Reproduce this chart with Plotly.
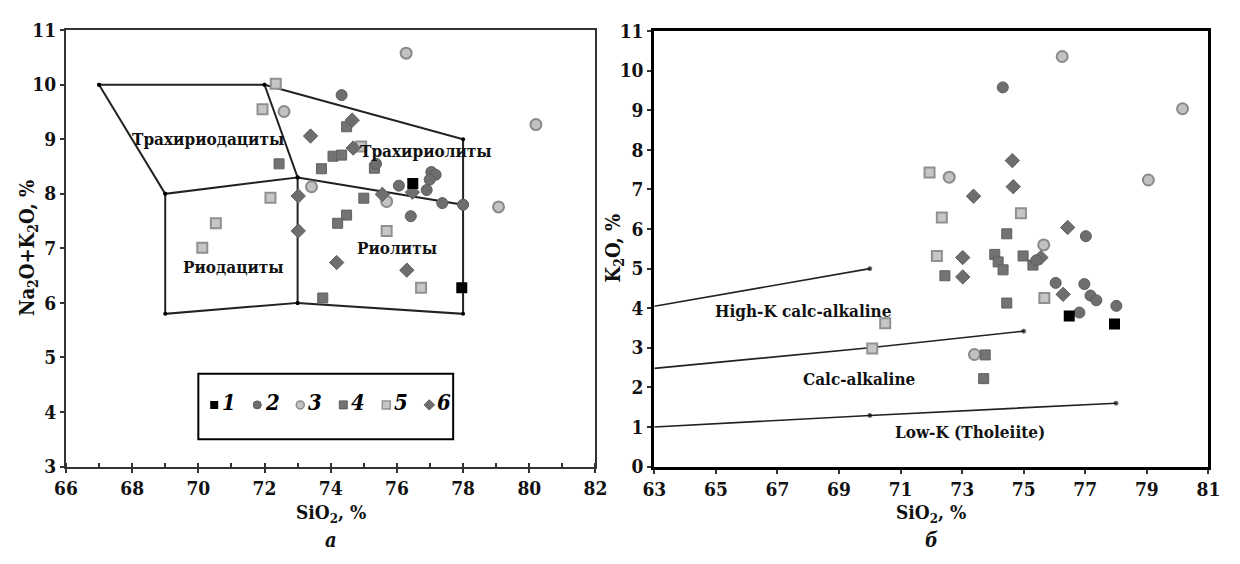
import plotly.graph_objects as go

# ---------------- DATA ----------------
group_names = ["1", "2", "3", "4", "5", "6"]

# Panel а: SiO2 vs Na2O+K2O
a_si_1 = [76.48, 77.96]
a_alk_1 = [8.19, 6.28]
a_si_2 = [74.33, 75.37, 76.06, 77.04, 77.17, 76.99, 76.90, 77.37, 78.00, 76.42]
a_alk_2 = [9.81, 8.55, 8.15, 8.40, 8.35, 8.26, 8.07, 7.83, 7.80, 7.59]
a_si_3 = [76.28, 72.59, 80.20, 79.07, 73.42, 75.69]
a_alk_3 = [10.58, 9.51, 9.27, 7.76, 8.13, 7.86]
a_si_4 = [74.48, 74.07, 74.33, 72.44, 73.72, 75.32, 75.00, 74.48, 74.21, 73.76]
a_alk_4 = [9.23, 8.69, 8.71, 8.55, 8.46, 8.47, 7.92, 7.61, 7.46, 6.09]
a_si_5 = [72.34, 71.94, 74.92, 72.18, 75.69, 70.53, 70.12, 76.73]
a_alk_5 = [10.02, 9.55, 8.87, 7.93, 7.32, 7.46, 7.01, 6.28]
a_si_6 = [74.65, 73.39, 74.68, 73.02, 75.56, 73.02, 74.18, 76.30, 76.47]
a_alk_6 = [9.35, 9.06, 8.84, 7.96, 7.99, 7.32, 6.74, 6.60, 8.03]

# Panel б: SiO2 vs K2O
b_si_1 = [76.48, 77.95]
b_k_1 = [3.80, 3.60]
b_si_2 = [74.32, 77.02, 75.41, 76.04, 76.97, 77.17, 77.36, 78.01, 76.81]
b_k_2 = [9.58, 5.82, 5.21, 4.64, 4.61, 4.32, 4.20, 4.06, 3.89]
b_si_3 = [76.25, 80.16, 79.05, 72.58, 75.65, 73.40]
b_k_3 = [10.36, 9.04, 7.24, 7.31, 5.60, 2.83]
b_si_4 = [74.45, 72.44, 74.06, 74.17, 74.33, 74.98, 75.30, 74.45, 73.75, 73.70]
b_k_4 = [5.88, 4.82, 5.36, 5.17, 4.97, 5.32, 5.09, 4.13, 2.82, 2.22]
b_si_5 = [71.94, 72.34, 74.91, 72.18, 75.67, 70.50, 70.08]
b_k_5 = [7.43, 6.29, 6.40, 5.32, 4.26, 3.62, 2.98]
b_si_6 = [74.63, 74.66, 73.37, 76.43, 73.02, 73.02, 75.56, 76.28]
b_k_6 = [7.73, 7.07, 6.83, 6.04, 5.28, 4.79, 5.28, 4.35]

# Classification fields (panel а)
trd_si = [67, 72, 73, 69, 67]
trd_alk = [10, 10, 8.3, 8, 10]
trr_si = [72, 78, 78, 73]
trr_alk = [10, 9, 7.8, 8.3]
rd_si = [69, 69, 73, 73]
rd_alk = [8, 5.8, 6, 8.3]
r_si = [73, 78, 78]
r_alk = [6, 5.8, 7.8]

# Series boundaries (panel б)
hk_si = [63, 70]
hk_k = [4.05, 5.0]
ca_si = [63, 70, 75]
ca_k = [2.48, 3.0, 3.42]
lk_si = [63, 70, 78]
lk_k = [1.0, 1.29, 1.6]

# ---------------- STYLES ----------------
styles = {
    "1": dict(symbol="square", color="#000000", line=dict(color="#000000", width=0), size=11),
    "2": dict(symbol="circle", color="#6e6e6e", line=dict(color="#5c5c5c", width=1), size=11),
    "3": dict(symbol="circle", color="#c2c2c2", line=dict(color="#8a8a8a", width=2), size=11),
    "4": dict(symbol="square", color="#737373", line=dict(color="#606060", width=1), size=10),
    "5": dict(symbol="square", color="#c6c6c6", line=dict(color="#909090", width=2), size=10),
    "6": dict(symbol="diamond", color="#6e6e6e", line=dict(color="#5c5c5c", width=1), size=11),
}

FONT = "DejaVu Serif Condensed, DejaVu Serif, serif"

fig = go.Figure()

# field lines
for xs, ys in [(trd_si, trd_alk), (trr_si, trr_alk), (rd_si, rd_alk), (r_si, r_alk)]:
    fig.add_trace(go.Scatter(x=xs, y=ys, mode="lines+markers", xaxis="x", yaxis="y",
                             line=dict(color="#222222", width=2),
                             marker=dict(size=4, color="#000000"),
                             showlegend=False, hoverinfo="skip"))

for xs, ys in [(hk_si, hk_k), (ca_si, ca_k), (lk_si, lk_k)]:
    fig.add_trace(go.Scatter(x=xs, y=ys, mode="lines+markers", xaxis="x2", yaxis="y2",
                             line=dict(color="#222222", width=1.6),
                             marker=dict(size=[0] + [4] * (len(xs) - 1), color="#000000"),
                             showlegend=False, hoverinfo="skip"))

a_data = {"1": (a_si_1, a_alk_1), "2": (a_si_2, a_alk_2), "3": (a_si_3, a_alk_3),
          "4": (a_si_4, a_alk_4), "5": (a_si_5, a_alk_5), "6": (a_si_6, a_alk_6)}
b_data = {"1": (b_si_1, b_k_1), "2": (b_si_2, b_k_2), "3": (b_si_3, b_k_3),
          "4": (b_si_4, b_k_4), "5": (b_si_5, b_k_5), "6": (b_si_6, b_k_6)}

draw_order = ["5", "3", "4", "6", "2", "1"]
for g in draw_order:
    st = styles[g]
    xs, ys = a_data[g]
    fig.add_trace(go.Scatter(x=xs, y=ys, mode="markers", xaxis="x", yaxis="y", name=g,
                             marker=dict(symbol=st["symbol"], color=st["color"], size=st["size"], line=st["line"]),
                             showlegend=False))
    xs, ys = b_data[g]
    fig.add_trace(go.Scatter(x=xs, y=ys, mode="markers", xaxis="x2", yaxis="y2", name=g,
                             marker=dict(symbol=st["symbol"], color=st["color"], size=st["size"], line=st["line"]),
                             showlegend=False))

# custom legend inside panel а
leg_x0, leg_step, leg_y = 70.48, 1.3, 4.13
leg_x = [leg_x0 + i * leg_step for i in range(len(group_names))]
for i, g in enumerate(group_names):
    st = styles[g]
    fig.add_trace(go.Scatter(x=[leg_x[i]], y=[leg_y], mode="markers", xaxis="x", yaxis="y",
                             marker=dict(symbol=st["symbol"], color=st["color"], size=8,
                                         line=dict(color=st["line"]["color"], width=min(st["line"]["width"], 1.5))),
                             showlegend=False, hoverinfo="skip"))

annotations = []
for i, g in enumerate(group_names):
    annotations.append(dict(x=leg_x[i] + 0.16, y=leg_y + 0.05, xref="x", yref="y", text="<b><i>%s</i></b>" % g,
                            showarrow=False, xanchor="left", yanchor="middle",
                            font=dict(family=FONT, size=22, color="#000")))

shapes = [dict(type="rect", xref="x", yref="y", x0=70.0, x1=77.7, y0=3.5, y1=4.7,
               line=dict(color="#000", width=2), fillcolor="rgba(0,0,0,0)", layer="below")]

def lab(text, x, y, xref, yref, size=17):
    annotations.append(dict(x=x, y=y, xref=xref, yref=yref, text="<b>%s</b>" % text, showarrow=False,
                            xanchor="center", yanchor="middle", font=dict(family=FONT, size=size, color="#111")))

lab("Трахириодациты", 70.3, 9.0, "x", "y")
lab("Трахириолиты", 76.88, 8.78, "x", "y")
lab("Риодациты", 71.05, 6.65, "x", "y")
lab("Риолиты", 76.0, 7.0, "x", "y")

lab("High-K calc-alkaline", 67.85, 3.94, "x2", "y2", 17)
lab("Calc-alkaline", 69.67, 2.22, "x2", "y2", 17)
lab("Low-K (Tholeiite)", 73.25, 0.87, "x2", "y2", 17)

# axis titles and panel letters
lab("SiO<sub>2</sub>, %", 0.262, 1 - 523 / 564, "paper", "paper", 19)
lab("SiO<sub>2</sub>, %", 0.756, 1 - 523 / 564, "paper", "paper", 19)
annotations.append(dict(x=17 / 1240, y=1 - 247 / 564, xref="paper", yref="paper",
                        text="<b>Na<sub>2</sub>O+K<sub>2</sub>O, %</b>", showarrow=False, textangle=-90,
                        xanchor="center", yanchor="middle", font=dict(family=FONT, size=20, color="#111")))
annotations.append(dict(x=614 / 1240, y=1 - 247 / 564, xref="paper", yref="paper",
                        text="<b>K<sub>2</sub>O, %</b>", showarrow=False, textangle=-90,
                        xanchor="center", yanchor="middle", font=dict(family=FONT, size=20, color="#111")))
annotations.append(dict(x=0.262, y=1 - 550 / 564, xref="paper", yref="paper", text="<b><i>а</i></b>",
                        showarrow=False, xanchor="center", yanchor="middle",
                        font=dict(family=FONT, size=20, color="#111")))
annotations.append(dict(x=0.756, y=1 - 550 / 564, xref="paper", yref="paper", text="<b><i>б</i></b>",
                        showarrow=False, xanchor="center", yanchor="middle",
                        font=dict(family=FONT, size=20, color="#111")))

tickfont = dict(family=FONT, size=19, color="#111", weight="bold")

fig.update_layout(
    width=1240, height=564,
    margin=dict(l=0, r=0, t=0, b=0),
    paper_bgcolor="white", plot_bgcolor="white",
    showlegend=False,
    xaxis=dict(domain=[55 / 1240, 595 / 1240], range=[66, 82], tick0=66, dtick=2,
               showgrid=False, zeroline=False, showline=True, mirror=True, linecolor="#333", linewidth=2,
               ticks="outside", ticklen=4, tickwidth=1.5, tickcolor="#333", tickfont=tickfont,
               minor=dict(dtick=1, ticks="inside", ticklen=4, tickcolor="#333", tickwidth=1.5, showgrid=False),
               anchor="y"),
    yaxis=dict(domain=[1 - 474 / 564, 1 - 20 / 564], range=[3, 11], tick0=3, dtick=1,
               showgrid=False, zeroline=False, showline=True, mirror=True, linecolor="#333", linewidth=2,
               ticks="outside", ticklen=4, tickwidth=1.5, tickcolor="#333", tickfont=tickfont,
               anchor="x"),
    xaxis2=dict(domain=[655 / 1240, 1220 / 1240], range=[63, 81], tick0=63, dtick=2,
                showgrid=False, zeroline=False, showline=True, mirror=True, linecolor="#000", linewidth=3,
                ticks="outside", ticklen=4, tickwidth=1.5, tickcolor="#333", tickfont=tickfont,
                anchor="y2"),
    yaxis2=dict(domain=[1 - 474 / 564, 1 - 21 / 564], range=[0, 11], tick0=0, dtick=1,
                showgrid=False, zeroline=False, showline=True, mirror=True, linecolor="#000", linewidth=3,
                ticks="outside", ticklen=4, tickwidth=1.5, tickcolor="#333", tickfont=tickfont,
                anchor="x2"),
    annotations=annotations,
    shapes=shapes,
)

fig.write_html("out.html", config={"displayModeBar": False},
               post_script="document.body.style.margin='0';")
